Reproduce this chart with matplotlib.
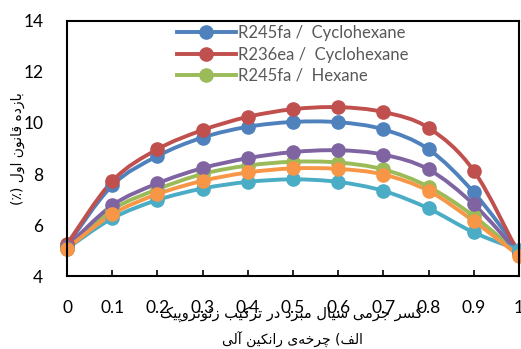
# Efficiency vs. zeotropic mixture mass fraction (ORC)
import numpy as np
import matplotlib
matplotlib.use("Agg")
import matplotlib.pyplot as plt
from matplotlib.path import Path
from matplotlib.patches import PathPatch
from matplotlib.lines import Line2D

x = [0, 0.1, 0.2, 0.3, 0.4, 0.5, 0.6, 0.7, 0.8, 0.9, 1.0]
blue = [5.2, 7.55, 8.7, 9.43, 9.85, 10.04, 10.03, 9.75, 8.97, 7.28, 5.0]
red = [5.25, 7.72, 8.97, 9.72, 10.24, 10.54, 10.62, 10.43, 9.81, 8.13, 4.86]
green = [5.12, 6.6, 7.4, 8.0, 8.33, 8.48, 8.45, 8.18, 7.5, 6.35, 4.86]
purple = [5.15, 6.77, 7.63, 8.23, 8.62, 8.86, 8.93, 8.76, 8.18, 6.81, 4.89]
cyan = [5.08, 6.26, 6.98, 7.43, 7.69, 7.79, 7.69, 7.34, 6.65, 5.71, 5.02]
orange = [5.08, 6.42, 7.21, 7.73, 8.06, 8.22, 8.2, 7.98, 7.34, 6.15, 4.8]

series = [blue, red, green, purple, cyan, orange]
colors = ["#4F81BD", "#C0504D", "#9BBB59", "#8064A2", "#4BACC6", "#F79646"]
legend_labels = ["R245fa /  Cyclohexane", "R236ea /  Cyclohexane", "R245fa /  Hexane"]

# --- minimal Persian shaping (presentation forms + visual order) ---
FORMS = {  # iso, final, initial, medial
    "\u0627": ("\uFE8D", "\uFE8E", None, None),
    "\u0622": ("\uFE81", "\uFE82", None, None),
    "\u062F": ("\uFEA9", "\uFEAA", None, None),
    "\u0631": ("\uFEAD", "\uFEAE", None, None),
    "\u0632": ("\uFEAF", "\uFEB0", None, None),
    "\u0648": ("\uFEED", "\uFEEE", None, None),
    "\u0628": ("\uFE8F", "\uFE90", "\uFE91", "\uFE92"),
    "\u062A": ("\uFE95", "\uFE96", "\uFE97", "\uFE98"),
    "\u062C": ("\uFE9D", "\uFE9E", "\uFE9F", "\uFEA0"),
    "\u062E": ("\uFEA5", "\uFEA6", "\uFEA7", "\uFEA8"),
    "\u0633": ("\uFEB1", "\uFEB2", "\uFEB3", "\uFEB4"),
    "\u0641": ("\uFED1", "\uFED2", "\uFED3", "\uFED4"),
    "\u0642": ("\uFED5", "\uFED6", "\uFED7", "\uFED8"),
    "\u0644": ("\uFEDD", "\uFEDE", "\uFEDF", "\uFEE0"),
    "\u0645": ("\uFEE1", "\uFEE2", "\uFEE3", "\uFEE4"),
    "\u0646": ("\uFEE5", "\uFEE6", "\uFEE7", "\uFEE8"),
    "\u0647": ("\uFEE9", "\uFEEA", "\uFEEB", "\uFEEC"),
    "\u0626": ("\uFE89", "\uFE8A", "\uFE8B", "\uFE8C"),
    "\u06CC": ("\uFBFC", "\uFBFD", "\uFBFE", "\uFBFF"),
    "\u06A9": ("\uFB8E", "\uFB8F", "\uFB90", "\uFB91"),
    "\u067E": ("\uFB56", "\uFB57", "\uFB58", "\uFB59"),
    "\u0686": ("\uFB7A", "\uFB7B", "\uFB7C", "\uFB7D"),
}


def dual(c):
    return c in FORMS and FORMS[c][2] is not None


def shape(s):
    out = []
    for i, c in enumerate(s):
        if c == "\u200c":
            continue
        if c not in FORMS:
            out.append(c)
            continue
        prev = s[i - 1] if i > 0 else ""
        nxt = s[i + 1] if i + 1 < len(s) else ""
        jp = dual(prev)
        jn = dual(c) and nxt in FORMS
        f = FORMS[c]
        if jp and jn:
            out.append(f[3])
        elif jp:
            out.append(f[1])
        elif jn:
            out.append(f[2])
        else:
            out.append(f[0])
    vis = "".join(reversed(out))
    return vis.translate(str.maketrans("()", ")("))


ylabel = shape("بازده قانون اول (٪)")
xlabel = shape("کسر جرمی سیال مبرد در ترکیب زئوتروپیک")
caption = shape("الف) چرخه\u200cی رانکین آلی")


def smooth_path(xs, ys):
    p = np.column_stack([xs, ys])
    n = len(p)
    verts = [p[0]]
    codes = [Path.MOVETO]
    for i in range(n - 1):
        p0 = p[i - 1] if i > 0 else p[i]
        p3 = p[i + 2] if i + 2 < n else p[i + 1]
        c1 = p[i] + (p[i + 1] - p0) / 6
        c2 = p[i + 1] - (p3 - p[i]) / 6
        verts += [c1, c2, p[i + 1]]
        codes += [Path.CURVE4] * 3
    return Path(verts, codes)


plt.rcParams["font.family"] = ["Lato", "DejaVu Sans"]

fig = plt.figure(figsize=(5.21, 3.49), dpi=100)
ax = fig.add_axes([0.1286, 0.209, 0.8674, 0.731])

for ys, col in zip(series, colors):
    ax.add_patch(PathPatch(smooth_path(x, ys), fill=False, edgecolor=col,
                           linewidth=2.8, clip_on=False, capstyle="round"))
    ax.plot(x, ys, linestyle="none", marker="o", markersize=9.5, color=col,
            clip_on=False)

ax.set_xlim(0, 1)
ax.set_ylim(4, 14)
ax.set_xticks(x)
ax.set_xticklabels(["0", "0.1", "0.2", "0.3", "0.4", "0.5", "0.6", "0.7", "0.8", "0.9", "1"])
ax.set_yticks([4, 6, 8, 10, 12, 14])
ax.tick_params(axis="x", direction="in", length=4, width=1.2, pad=17, labelsize=12.5)
ax.tick_params(axis="y", length=0, pad=17, labelsize=12.5)
for sp in ax.spines.values():
    sp.set_linewidth(1.5)

handles = [Line2D([], [], color=c, linewidth=2.8, marker="o", markersize=9.5)
           for c in colors[:3]]
leg = ax.legend(handles, legend_labels, loc="upper center", bbox_to_anchor=(0.5, 1.022),
                frameon=False, fontsize=12, handlelength=3.5, handletextpad=0.15,
                labelspacing=0.32, borderaxespad=0.2)
for t in leg.get_texts():
    t.set_color("#595959")

fig.text(0.02, 0.575, ylabel, rotation=90, ha="left", va="center",
         family="DejaVu Sans", fontsize=10)
fig.text(0.56, 0.1, xlabel, ha="center", va="center", family="DejaVu Sans", fontsize=10.5)
fig.text(0.562, 0.025, caption, ha="center", va="center", family="DejaVu Sans", fontsize=10)

fig.savefig("out.png", dpi=100)
